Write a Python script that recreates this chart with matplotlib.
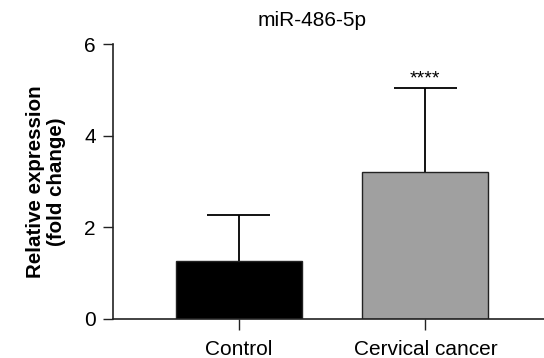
import matplotlib.pyplot as plt

# Data
groups = ['Control', 'Cervical cancer']
means = [1.27, 3.21]
errors = [1.0, 1.83]
bar_colors = ['#000000', '#a0a0a0']
title = 'miR-486-5p'
ylabel = 'Relative expression\n(fold change)'
sig_label = '****'

plt.rcParams['font.family'] = ['Liberation Sans', 'DejaVu Sans']

fig = plt.figure(figsize=(5.44, 3.58), dpi=100)
ax = fig.add_axes([113 / 544, 1 - 319 / 358, 1 - 113 / 544, (319 - 44) / 358])

x = list(range(len(groups)))
bar_w = 0.675
ax.bar(x, means, width=bar_w, color=bar_colors, edgecolor='#222222',
       linewidth=1.0, zorder=2)

# upper-only error bars: stem from bar top, cap half the bar width
tops = [m + e for m, e in zip(means, errors)]
ax.vlines(x, means, tops, colors='black', linewidth=1.3, zorder=1)
ax.hlines(tops, [i - bar_w / 4 for i in x], [i + bar_w / 4 for i in x],
          colors='black', linewidth=1.3, zorder=1)

# significance stars above the cancer bar
ax.text(1, tops[1] + 0.02, sig_label, ha='center', va='bottom', fontsize=14)

ax.set_xlim(-0.674, 1.636)
ax.set_ylim(0, 6)
ax.set_yticks([0, 2, 4, 6])
ax.set_xticks(x)
ax.set_xticklabels(groups)
ax.tick_params(axis='both', labelsize=15, width=1.0, color='#222222')
ax.tick_params(axis='y', length=7, pad=5.5)
ax.tick_params(axis='x', length=8, pad=7)

for side in ['top', 'right']:
    ax.spines[side].set_visible(False)
for side in ['left', 'bottom']:
    ax.spines[side].set_linewidth(1.2)
    ax.spines[side].set_color('#222222')

ax.set_ylabel(ylabel, fontsize=14.8, fontweight='bold', labelpad=13, linespacing=1.1)
fig.text(312 / 544, 1 - 20 / 358, title, ha='center', va='center', fontsize=15)

fig.savefig('out.png', dpi=100)
